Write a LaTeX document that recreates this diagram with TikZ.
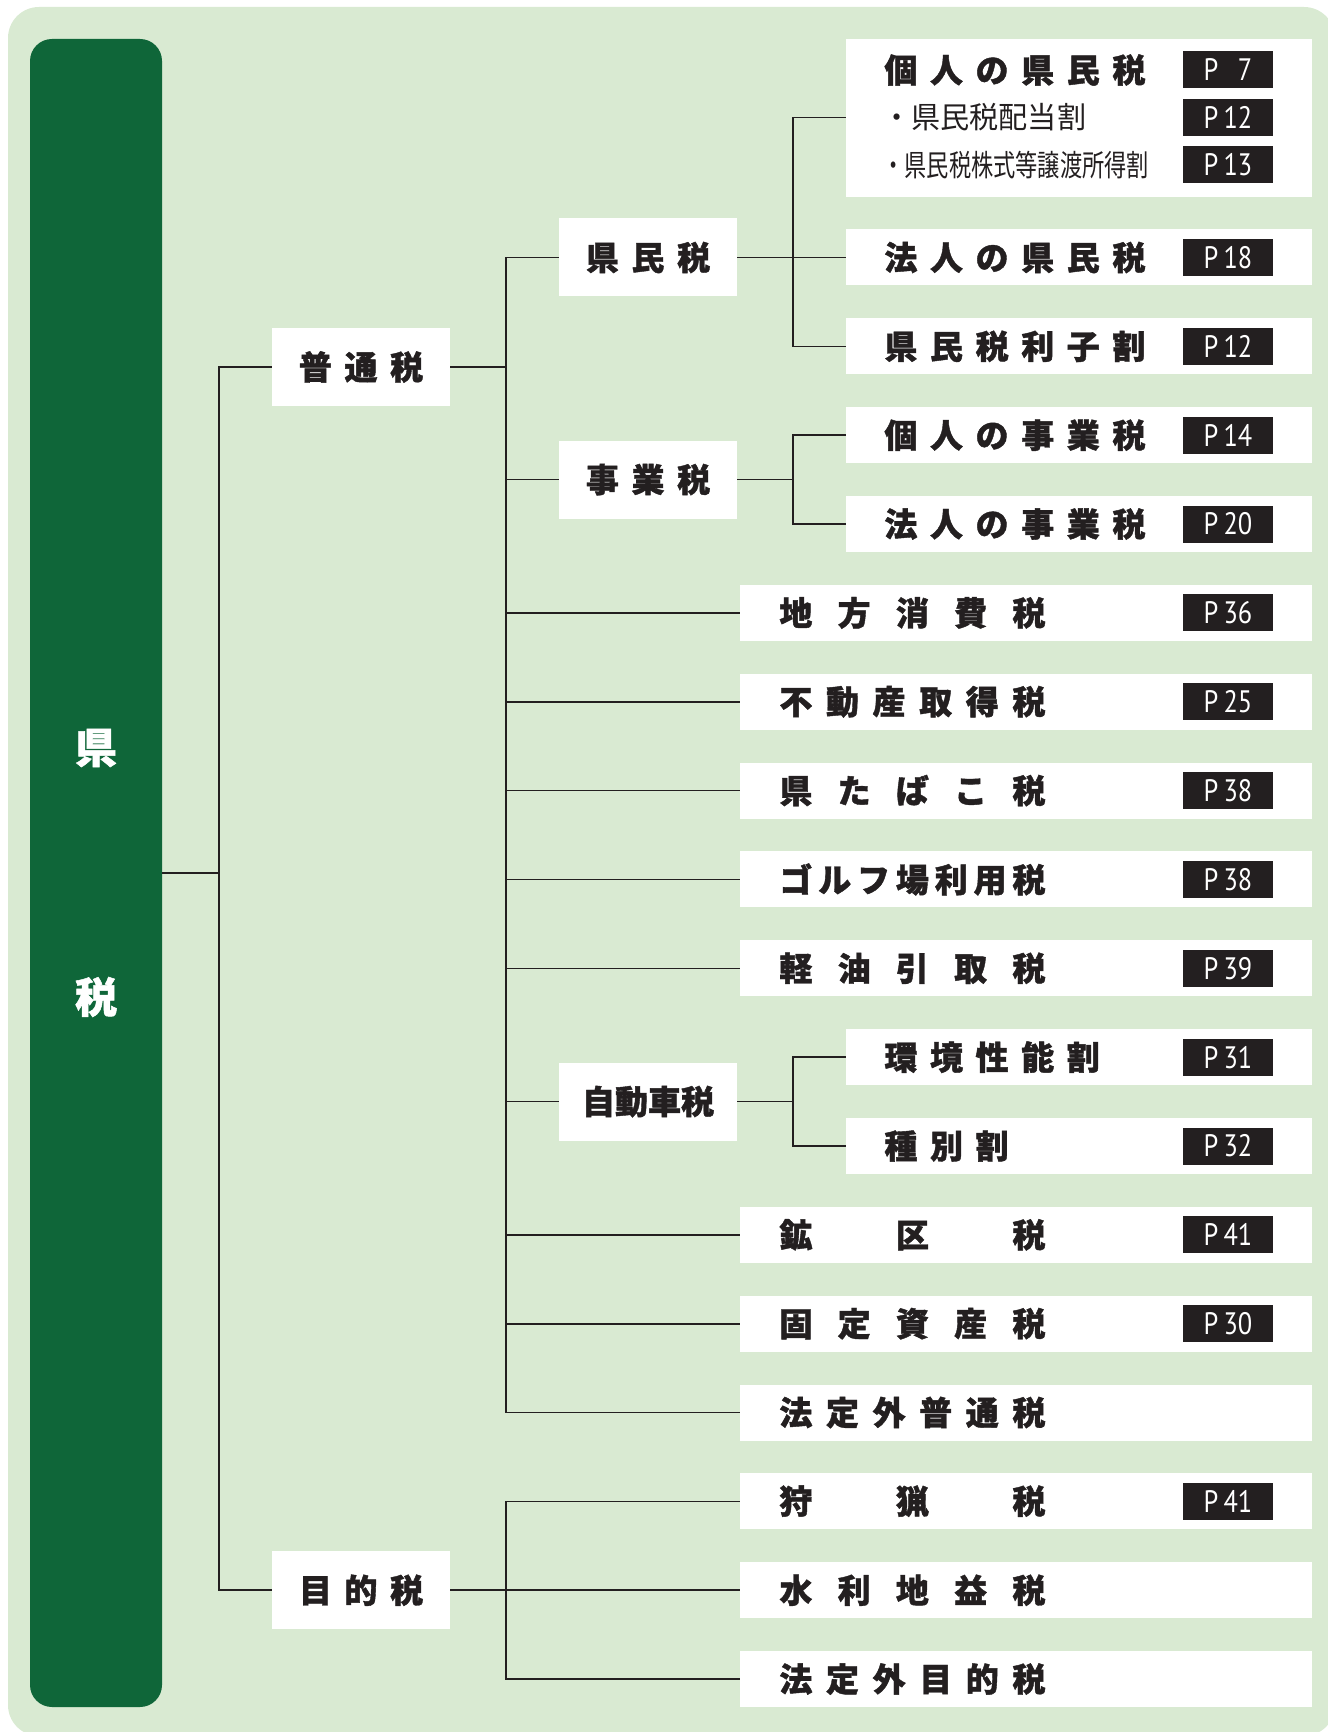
\documentclass[tikz,border=0pt]{standalone}
\usepackage{fontspec}
\newfontfamily\jp{Noto Sans CJK JP}[BoldFeatures={FakeBold=1.2}]
\newfontfamily\pf{PT Sans}
\definecolor{bgc}{HTML}{D9EAD2}
\definecolor{dkgreen}{HTML}{0F6639}
\definecolor{ink}{HTML}{231F20}
\newcommand\gp{\hspace{6.3pt}}
\newcommand\jw[1]{\makebox[133pt]{#1}}
\newcommand\pl[1]{\scalebox{0.85}[1]{#1}}
\tikzset{
  box/.style={fill=white, inner sep=0pt},
  lvone/.style={box, minimum width=89pt, minimum height=39pt, text=ink,
    font=\jp\bfseries\fontsize{16.5}{18}\selectfont},
  lvthree/.style={box, minimum width=233pt, minimum height=28pt},
  widebox/.style={box, minimum width=286pt, minimum height=28pt},
  lbl/.style={anchor=west, inner sep=0pt, text=ink,
    font=\jp\bfseries\fontsize{16.5}{18}\selectfont},
  sublbl/.style={anchor=west, inner sep=0pt, text=ink,
    font=\jp\fontsize{15}{16}\selectfont},
  pg/.style={fill=ink, text=white, minimum width=45pt, minimum height=18.5pt,
    inner sep=0pt, font=\pf\fontsize{15.5}{16}\selectfont},
  conn/.style={draw=ink, line width=0.8pt},
  big/.style={text=white, inner sep=0pt, font=\jp\bfseries\fontsize{21}{22}\selectfont}
}
\begin{document}
\begin{tikzpicture}[x=0.5pt,y=-0.5pt]
\useasboundingbox (0,0) rectangle (1327,1732);
\fill[bgc, rounded corners=15.5pt] (8,7) rectangle (1335,1736);
% left bar
\node[fill=dkgreen, rounded corners=11pt, minimum width=66pt, minimum height=834pt, inner sep=0pt] (bar) at (96,873) {};
\node[big] (barA) at (96,748) {県};
\node[big] (barB) at (96,997) {税};
% junction x positions
\coordinate (x1) at (219,873);
\coordinate (x2) at (506,873);
\coordinate (x3) at (793,873);
% level 1
\node[lvone] (futsu) at (361,367) {普\gp 通\gp 税};
\node[lvone] (mokuteki) at (361,1590.25) {目\gp 的\gp 税};
% level 2 groups
\node[lvone] (kenmin) at (648,257.5) {県\gp 民\gp 税};
\node[lvone] (jigyo) at (648,479.6) {事\gp 業\gp 税};
\node[lvone] (jidosha) at (648,1101.6) {自動車税};
% level 3 boxes
\node[lvthree, minimum height=79pt] (kojin) at (1079,117.7) {};
\node[lvthree] (r1) at (1079,257.5) {};
\node[lvthree] (r2) at (1079,346.35) {};
\node[lvthree] (r3) at (1079,435.2) {};
\node[lvthree] (r4) at (1079,524.05) {};
\node[widebox] (r5) at (1026,612.9) {};
\node[widebox] (r6) at (1026,701.75) {};
\node[widebox] (r7) at (1026,790.6) {};
\node[widebox] (r8) at (1026,879.45) {};
\node[widebox] (r9) at (1026,968.3) {};
\node[lvthree] (r10) at (1079,1057.15) {};
\node[lvthree] (r11) at (1079,1146) {};
\node[widebox] (r12) at (1026,1234.85) {};
\node[widebox] (r13) at (1026,1323.7) {};
\node[widebox] (r14) at (1026,1412.55) {};
\node[widebox] (r15) at (1026,1501.4) {};
\node[widebox] (r16) at (1026,1590.25) {};
\node[widebox] (r17) at (1026,1679.1) {};
% texts
\node[lbl] (t0) at (884,70) {個\gp 人\gp の\gp 県\gp 民\gp 税};
\node[sublbl] (t0a) at (882,117) {\scalebox{0.97}[1]{・県民税配当割}};
\node[sublbl] (t0b) at (882,165) {\scalebox{0.74}[1]{・県民税株式等譲渡所得割}};
\node[lbl] (t1) at (884,257.5) {法\gp 人\gp の\gp 県\gp 民\gp 税};
\node[lbl] (t2) at (884,346.35) {県\gp 民\gp 税\gp 利\gp 子\gp 割};
\node[lbl] (t3) at (884,435.2) {個\gp 人\gp の\gp 事\gp 業\gp 税};
\node[lbl] (t4) at (884,524.05) {法\gp 人\gp の\gp 事\gp 業\gp 税};
\node[lbl] (t5) at (779,612.9) {\jw{地\hfill 方\hfill 消\hfill 費\hfill 税}};
\node[lbl] (t6) at (779,701.75) {\jw{不\hfill 動\hfill 産\hfill 取\hfill 得\hfill 税}};
\node[lbl] (t7) at (779,790.6) {\jw{県\hfill た\hfill ば\hfill こ\hfill 税}};
\node[lbl] (t8) at (779,879.45) {\jw{ゴ\hfill ル\hfill フ\hfill 場\hfill 利\hfill 用\hfill 税}};
\node[lbl] (t9) at (779,968.3) {\jw{軽\hfill 油\hfill 引\hfill 取\hfill 税}};
\node[lbl] (t10) at (884,1057.15) {環\gp 境\gp 性\gp 能\gp 割};
\node[lbl] (t11) at (884,1146) {種\gp 別\gp 割};
\node[lbl] (t12) at (779,1234.85) {\jw{鉱\hfill 区\hfill 税}};
\node[lbl] (t13) at (779,1323.7) {\jw{固\hfill 定\hfill 資\hfill 産\hfill 税}};
\node[lbl] (t14) at (779,1412.55) {\jw{法\hfill 定\hfill 外\hfill 普\hfill 通\hfill 税}};
\node[lbl] (t15) at (779,1501.4) {\jw{狩\hfill 猟\hfill 税}};
\node[lbl] (t16) at (779,1590.25) {\jw{水\hfill 利\hfill 地\hfill 益\hfill 税}};
\node[lbl] (t17) at (779,1679.1) {\jw{法\hfill 定\hfill 外\hfill 目\hfill 的\hfill 税}};
% page labels
\node[pg] (p0) at (1228,69.6) {\pl{P\hspace{3pt}\phantom{1}7}};
\node[pg] (p0a) at (1228,117.1) {\pl{P\hspace{3pt}12}};
\node[pg] (p0b) at (1228,164.6) {\pl{P\hspace{3pt}13}};
\node[pg] (p1) at (1228,257.5) {\pl{P\hspace{3pt}18}};
\node[pg] (p2) at (1228,346.35) {\pl{P\hspace{3pt}12}};
\node[pg] (p3) at (1228,435.2) {\pl{P\hspace{3pt}14}};
\node[pg] (p4) at (1228,524.05) {\pl{P\hspace{3pt}20}};
\node[pg] (p5) at (1228,612.9) {\pl{P\hspace{3pt}36}};
\node[pg] (p6) at (1228,701.75) {\pl{P\hspace{3pt}25}};
\node[pg] (p7) at (1228,790.6) {\pl{P\hspace{3pt}38}};
\node[pg] (p8) at (1228,879.45) {\pl{P\hspace{3pt}38}};
\node[pg] (p9) at (1228,968.3) {\pl{P\hspace{3pt}39}};
\node[pg] (p10) at (1228,1057.15) {\pl{P\hspace{3pt}31}};
\node[pg] (p11) at (1228,1146) {\pl{P\hspace{3pt}32}};
\node[pg] (p12) at (1228,1234.85) {\pl{P\hspace{3pt}41}};
\node[pg] (p13) at (1228,1323.7) {\pl{P\hspace{3pt}30}};
\node[pg] (p15) at (1228,1501.4) {\pl{P\hspace{3pt}41}};
% connectors
\draw[conn] (bar.east) -- (x1);
\draw[conn] (futsu.west) -| (x1 |- mokuteki) -- (mokuteki.west);
\draw[conn] (futsu.east) -- (x2 |- futsu);
\draw[conn] (kenmin.west) -| (x2 |- r14) -- (r14.west);
\draw[conn] (x2 |- jigyo) -- (jigyo.west);
\draw[conn] (x2 |- jidosha) -- (jidosha.west);
\draw[conn] (x2 |- r5) -- (r5.west);
\draw[conn] (x2 |- r6) -- (r6.west);
\draw[conn] (x2 |- r7) -- (r7.west);
\draw[conn] (x2 |- r8) -- (r8.west);
\draw[conn] (x2 |- r9) -- (r9.west);
\draw[conn] (x2 |- r12) -- (r12.west);
\draw[conn] (x2 |- r13) -- (r13.west);
\draw[conn] (kenmin.east) -- (x3 |- kenmin);
\draw[conn] (kojin.west) -| (x3 |- r2) -- (r2.west);
\draw[conn] (x3 |- r1) -- (r1.west);
\draw[conn] (jigyo.east) -- (x3 |- jigyo);
\draw[conn] (r3.west) -| (x3 |- r4) -- (r4.west);
\draw[conn] (jidosha.east) -- (x3 |- jidosha);
\draw[conn] (r10.west) -| (x3 |- r11) -- (r11.west);
\draw[conn] (mokuteki.east) -- (x2 |- mokuteki);
\draw[conn] (r15.west) -| (x2 |- r17) -- (r17.west);
\draw[conn] (x2 |- r16) -- (r16.west);
\end{tikzpicture}
\end{document}
